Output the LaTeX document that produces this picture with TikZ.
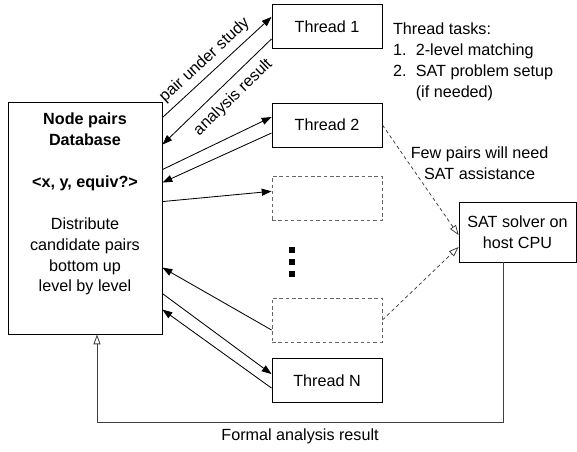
\documentclass[tikz,border=0pt]{standalone}
\usepackage{fontspec}
\setmainfont{Liberation Sans}
\usetikzlibrary{arrows.meta}

\begin{document}
\begin{tikzpicture}[
x=0.025cm, y=-0.025cm,
font=\fontsize{11.5}{14.9}\selectfont,
line width=0.6pt,
threadnode/.style={rectangle, draw, minimum width=2.75cm, minimum height=1.1cm},
idlenode/.style={threadnode, draw=black!60, dash pattern=on 2.5pt off 2pt},
dbnode/.style={rectangle, draw, minimum width=3.85cm, minimum height=5.8cm},
satnode/.style={rectangle, draw, align=center, minimum width=2.925cm, minimum height=1.5cm},
dotnode/.style={rectangle, fill, inner sep=0pt, minimum size=0.13cm},
solidarrow/.style={-{Triangle[length=7pt,width=5pt]}},
hollowarrow/.style={-{Triangle[open,length=7pt,width=5pt]}},
dashline/.style={draw=black!80, line width=0.5pt, dash pattern=on 2.5pt off 2pt},
]
\useasboundingbox (0,0) rectangle (577,452);

%Nodes
\node[dbnode]       (db)     at (85,218)    {};
\node[align=center] (dbtext) at (85,204)    {\textbf{Node pairs}\\\textbf{Database}\\[14.9pt]\textbf{<x, y, equiv?>}\\[14.9pt]Distribute\\candidate pairs\\bottom up\\level by level};
\node[threadnode]   (t1)     at (327,26.5)  {Thread 1};
\node[threadnode]   (t2)     at (327,125)   {Thread 2};
\node[idlenode]     (idle1)  at (327,198.5) {};
\node[idlenode]     (idle2)  at (327,320)   {};
\node[threadnode]   (tN)     at (327,380.5) {Thread N};
\node[satnode]      (sat)    at (517.5,232) {SAT solver on\\host CPU};
\node[align=left, anchor=west] (tasks) at (388,62) {Thread tasks:\\1.\hspace{0.2em} 2-level matching\\2.\hspace{0.2em} SAT problem setup\\\phantom{2.\hspace{0.2em} }(if needed)};
\foreach \i in {0,1,2}
  \node[dotnode] (dot\i) at (292,250+12*\i) {};
\coordinate (ret) at (97,422);

%Lines
\draw[solidarrow] ([yshift=-0.4cm]db.north east) -- node[sloped, above=0.5pt, pos=0.47] (sendlbl) {pair under study} ([yshift=0.24cm]t1.west);
\draw[solidarrow] ([yshift=-0.31cm]t1.west) -- node[sloped, below=2pt, pos=0.45] (backlbl) {analysis result} ([yshift=-1.075cm]db.north east);
\draw[solidarrow] ([yshift=-1.7cm]db.north east) -- ([yshift=0.2cm]t2.west);
\draw[solidarrow] ([yshift=-0.2cm]t2.west) -- ([yshift=-2.025cm]db.north east);
\draw[solidarrow] ([yshift=-2.5cm]db.north east) -- ([yshift=0.18cm]idle1.west);
\draw[solidarrow] ([yshift=-0.25cm]idle2.west) -- ([yshift=-4.15cm]db.north east);
\draw[solidarrow] ([yshift=-4.8cm]db.north east) -- ([yshift=0.16cm]tN.west);
\draw[solidarrow] ([yshift=-0.19cm]tN.west) -- ([yshift=-5.2cm]db.north east);
\draw[hollowarrow, dashline] (t2.east) -- node[pos=0.35, anchor=west, align=center, inner sep=1pt] (fewpairs) {Few pairs will need\\SAT assistance} ([yshift=-0.075cm]sat.west);
\draw[hollowarrow, dashline] (idle2.east) -- ([yshift=-0.375cm]sat.west);
\draw[hollowarrow, draw=black!75] ([xshift=-0.36cm]sat.south) |- node[pos=0.75, below=1pt] (formal) {Formal analysis result} (ret) -- (ret |- db.south);
\end{tikzpicture}
\end{document}
